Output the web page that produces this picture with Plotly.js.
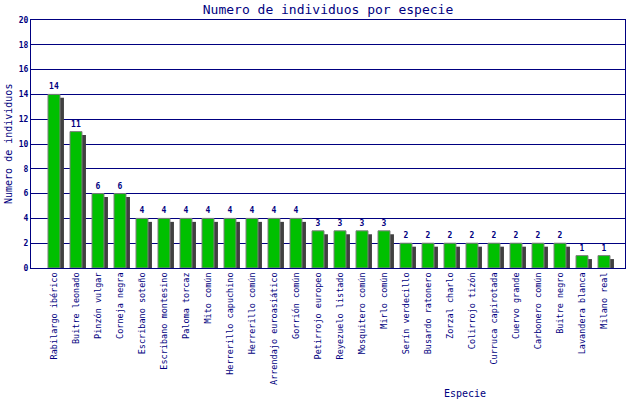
<html>
	<head>
		<meta charset="utf-8" />
		<title>Numero de individuos por especie</title>
		<script src="https://cdn.plot.ly/plotly-3.0.1.min.js"></script>
		<style>
			body { margin: 0; background: #fff; }
			#myDiv { width: 640px; height: 400px; }
		</style>
	</head>

	<body>

	  <div id="myDiv"></div>

		<script>

const especies = ['Rabilargo ibérico', 'Buitre leonado', 'Pinzón vulgar', 'Corneja negra',
  'Escribano soteño', 'Escribano montesino', 'Paloma torcaz', 'Mito común',
  'Herrerillo capuchino', 'Herrerillo común', 'Arrendajo euroasiático', 'Gorrión común',
  'Petirrojo europeo', 'Reyezuelo listado', 'Mosquitero común', 'Mirlo común',
  'Serín verdecillo', 'Busardo ratonero', 'Zorzal charlo', 'Colirrojo tizón',
  'Curruca capirotada', 'Cuervo grande', 'Carbonero común', 'Buitre negro',
  'Lavandera blanca', 'Milano real'];
const individuos = [14, 11, 6, 6, 4, 4, 4, 4, 4, 4, 4, 4, 3, 3, 3, 3, 2, 2, 2, 2, 2, 2, 2, 2, 1, 1];
const yTicks = [0, 2, 4, 6, 8, 10, 12, 14, 16, 18, 20];

var navy = '#000080';
var mono = 'DejaVu Sans Mono, monospace';
var barW = 0.545;

// shadow bar, shifted right and down a little
var shadow = {
  x: especies,
  y: individuos,
  base: -0.28,
  type: 'bar',
  width: barW,
  offset: -barW / 2 + 0.18,
  marker: { color: '#404040' },
  hoverinfo: 'skip',
  showlegend: false
};

var bars = {
  x: especies,
  y: individuos,
  type: 'bar',
  width: barW,
  offset: -barW / 2,
  marker: { color: '#00c000', line: { color: '#808080', width: 1 } },
  text: individuos.map(String),
  textposition: 'outside',
  cliponaxis: false,
  textfont: { family: mono, size: 8, color: navy, weight: 'bold' },
  showlegend: false
};

var layout = {
  width: 640,
  height: 400,
  margin: { l: 31, r: 15, t: 20, b: 132 },
  paper_bgcolor: '#fff',
  plot_bgcolor: '#fff',
  barmode: 'overlay',
  title: {
    text: 'Numero de individuos por especie',
    font: { family: mono, size: 13, color: navy },
    xref: 'container', x: 328 / 640,
    yref: 'container', y: 1 - 9 / 400, yanchor: 'middle'
  },
  xaxis: {
    type: 'category',
    range: [-1.045, 25.955],
    tickangle: -90,
    tickfont: { family: mono, size: 8.5, color: navy },
    showline: true, linecolor: navy, linewidth: 1, mirror: true,
    showgrid: false, ticks: '', automargin: false
  },
  yaxis: {
    range: [0, 20],
    tickvals: yTicks,
    tickfont: { family: mono, size: 8, color: navy, weight: 'bold' },
    showline: true, linecolor: navy, linewidth: 1, mirror: true,
    showgrid: true, gridcolor: navy, gridwidth: 1,
    zeroline: false, ticks: '', automargin: false
  },
  annotations: [
    {
      text: 'Numero de individuos', textangle: -90,
      xref: 'paper', yref: 'paper', x: (8 - 31) / 594, y: 0.5,
      xanchor: 'center', yanchor: 'middle',
      showarrow: false, font: { family: mono, size: 10, color: navy }
    },
    {
      text: 'Especie',
      xref: 'paper', yref: 'paper', x: (465 - 31) / 594, y: (268 - 393) / 248,
      xanchor: 'center', yanchor: 'middle',
      showarrow: false, font: { family: mono, size: 10, color: navy }
    }
  ]
};

Plotly.newPlot('myDiv', [shadow, bars], layout, { displayModeBar: false, staticPlot: true });

		</script>

	</body>
</html>
